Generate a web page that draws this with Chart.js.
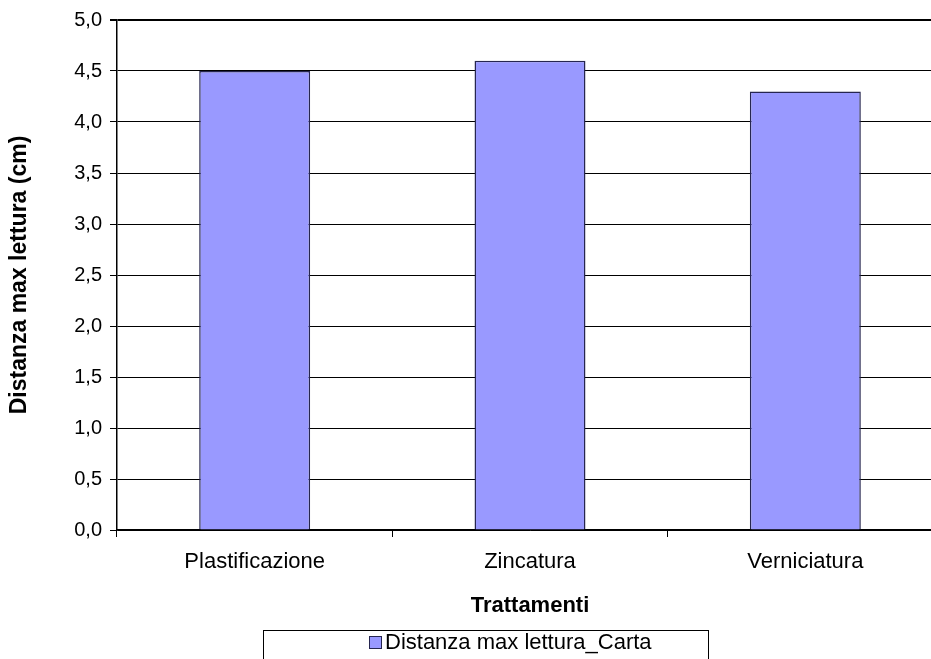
<!DOCTYPE html>
<html>
<head>
<meta charset="utf-8">
<script src="https://cdn.jsdelivr.net/npm/chart.js@4.4.1/dist/chart.umd.min.js"></script>
<style>
  html, body { margin: 0; padding: 0; background: #fff; overflow: hidden; }
  #wrap { position: relative; width: 943px; height: 659px; }
</style>
</head>
<body>
<div id="wrap"><canvas id="chart"></canvas></div>
<script>
const categories = ['Plastificazione', 'Zincatura', 'Verniciatura']
const distanzaCarta = [4.5, 4.6, 4.3]
const seriesLabel = 'Distanza max lettura_Carta'
const yTicks = [0, 0.5, 1, 1.5, 2, 2.5, 3, 3.5, 4, 4.5, 5]

const barFill = '#9999ff'
const barEdge = '#262650'
const fontFamily = '"Liberation Sans", Arial, Helvetica, sans-serif'

// legend box under the axis title, drawn by hand
const boxLegend = {
    id: 'boxLegend',
    afterDraw(chart) {
        const ctx = chart.ctx
        const ds = chart.data.datasets[0]
        const x = 263, y = 630, w = 445, h = 40
        ctx.save()
        ctx.strokeStyle = '#000'
        ctx.lineWidth = 1
        ctx.strokeRect(x + 0.5, y + 0.5, w, h)
        ctx.fillStyle = ds.backgroundColor
        ctx.fillRect(x + 106.5, y + 6.5, 12, 12)
        ctx.strokeStyle = ds.borderColor
        ctx.strokeRect(x + 106.5, y + 6.5, 12, 12)
        ctx.fillStyle = '#000'
        ctx.font = '22px ' + fontFamily
        ctx.textBaseline = 'middle'
        ctx.fillText(ds.label, x + 122, y + 13)
        ctx.restore()
    }
}

const chart = document.querySelector('#chart').getContext('2d')

new Chart(chart, {
    type: 'bar',
    data: {
        labels: categories,
        datasets: [
            {
                label: seriesLabel,
                data: distanzaCarta,
                backgroundColor: barFill,
                borderColor: barEdge,
                borderWidth: 1.5,
                borderSkipped: 'bottom',
                categoryPercentage: 1,
                barPercentage: 0.403
            }
        ]
    },
    options: {
        responsive: true,
        maintainAspectRatio: false,
        animation: false,
        layout: { padding: { top: 17, left: 0, right: 0, bottom: 0 } },
        plugins: {
            legend: { display: false },
            tooltip: { enabled: false }
        },
        scales: {
            x: {
                afterFit: (scale) => { scale.height = 129 },
                grid: {
                    offset: true,
                    drawOnChartArea: false,
                    drawTicks: true,
                    tickLength: 7,
                    color: '#000'
                },
                border: { color: '#000', width: 1.5 },
                ticks: {
                    color: '#000',
                    padding: 12,
                    font: { family: fontFamily, size: 22 }
                },
                title: {
                    display: true,
                    text: 'Trattamenti',
                    color: '#000',
                    font: { family: fontFamily, size: 22, weight: 'bold' },
                    padding: { top: 0, bottom: 40 }
                }
            },
            y: {
                min: 0,
                max: 5,
                afterFit: (scale) => { scale.width = 117 },
                afterBuildTicks: (scale) => {
                    scale.ticks = yTicks.map(v => ({ value: v }))
                },
                grid: {
                    color: '#000',
                    lineWidth: (c) => c.tick && c.tick.value === 5 ? 2 : 1,
                    tickLength: 7
                },
                border: { color: '#000', width: 1.5 },
                ticks: {
                    color: '#000',
                    padding: 8,
                    font: { family: fontFamily, size: 20 },
                    callback: (v) => v.toFixed(1).replace('.', ',')
                },
                title: {
                    display: true,
                    text: 'Distanza max lettura (cm)',
                    color: '#000',
                    font: { family: fontFamily, size: 23, weight: 'bold' },
                    padding: { top: 6, bottom: 0 }
                }
            }
        }
    },
    plugins: [boxLegend]
})
</script>
</body>
</html>
